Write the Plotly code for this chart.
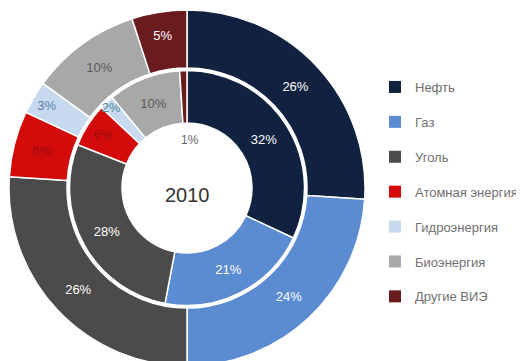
import plotly.graph_objects as go

# energy mix 2010, outer ring and inner ring (shares, %)
labels = ["Нефть", "Газ", "Уголь", "Атомная энергия", "Гидроэнергия", "Биоэнергия", "Другие ВИЭ"]
outer_values = [26, 24, 26, 6, 3, 10, 5]
inner_values = [32, 21, 28, 6, 2, 10, 1]
center_label = "2010"

colors = ["#10223f", "#5b8bd0", "#4b4b4b", "#d40b0b", "#c6d9ee", "#a8a8a8", "#6a1b1e"]
outer_text_colors = ["white", "white", "white", "#9a0c0c", "#5d7fa8", "#5a5a5a", "white"]
inner_text_colors = ["white", "white", "white", "#9a0c0c", "#4f8a96", "#5a5a5a", "#5a5a5a"]

W, H = 524, 361
OFF = 8                     # body margin of the html page
cx, cy = 187 - OFF, 188 - OFF   # pie centre in figure pixels
r_out, r_mid, r_in, r_hole = 178, 120, 117.5, 65
FONT = "Liberation Sans, Arial, sans-serif"


def dom(r):
    return dict(x=[(cx - r) / W, (cx + r) / W],
                y=[(H - cy - r) / H, (H - cy + r) / H])


def px(x, y):
    # page pixel -> paper coords
    return (x - OFF) / W, 1 - (y - OFF) / H


fig = go.Figure()

fig.add_trace(go.Pie(
    labels=labels, values=outer_values, domain=dom(r_out),
    hole=r_mid / r_out, sort=False, direction="clockwise", rotation=0,
    marker=dict(colors=colors, line=dict(color="white", width=1.5)),
    texttemplate="%{value}%", textposition="inside",
    insidetextorientation="horizontal",
    textfont=dict(family=FONT, size=13, color=outer_text_colors),
    showlegend=False, hoverinfo="label+value",
))

# smallest inner slice has its label in the hole, as in the original
inner_pos = ["inside" if v > 1 else "none" for v in inner_values]
fig.add_trace(go.Pie(
    labels=labels, values=inner_values, domain=dom(r_in),
    hole=r_hole / r_in, sort=False, direction="clockwise", rotation=0,
    marker=dict(colors=colors, line=dict(color="white", width=1.5)),
    texttemplate="%{value}%", textposition=inner_pos,
    insidetextorientation="horizontal",
    textfont=dict(family=FONT, size=13, color=inner_text_colors),
    showlegend=False, hoverinfo="label+value",
))

# legend entries (separate groups so the spacing can be opened up)
for name, c in zip(labels, colors):
    fig.add_trace(go.Scatter(
        x=[None], y=[None], mode="markers", name=name,
        marker=dict(symbol="square", size=11, color=c),
        legendgroup=name, showlegend=True,
    ))

small = [v for v in inner_values if v <= 1]
ax, ay = px(187, 195)
annotations = [dict(text=center_label, x=ax, y=ay, xref="paper", yref="paper",
                    showarrow=False, font=dict(family=FONT, size=20, color="#333333"))]
for v in small:
    sx, sy = px(190, 140)
    annotations.append(dict(text=f"{v}%", x=sx, y=sy, xref="paper", yref="paper",
                            showarrow=False, font=dict(family=FONT, size=12, color="#666666")))

lx, ly = px(415 - 40, 72)
fig.update_layout(
    width=W, height=H,
    margin=dict(l=0, r=0, t=0, b=0),
    paper_bgcolor="white", plot_bgcolor="white",
    uniformtext=dict(minsize=12, mode="show"),
    xaxis=dict(visible=False), yaxis=dict(visible=False),
    legend=dict(x=lx, y=ly, xanchor="left", yanchor="top",
                tracegroupgap=15, itemsizing="constant",
                font=dict(family=FONT, size=13, color="#707070"),
                bgcolor="rgba(0,0,0,0)"),
    annotations=annotations,
)

fig.write_html("out.html")
